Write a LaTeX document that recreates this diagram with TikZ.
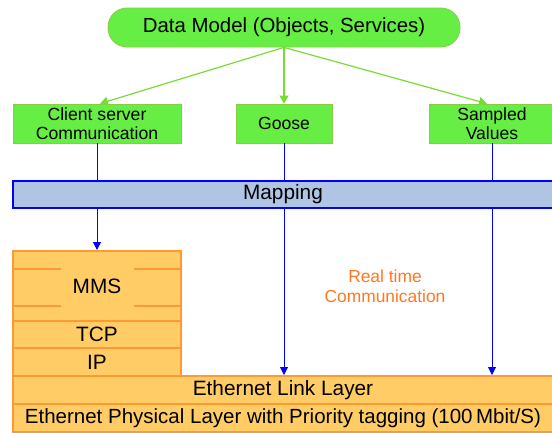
\documentclass[tikz,border=0pt]{standalone}
\usepackage{fontspec}
\setmainfont{Liberation Sans}
\usepackage{tikz}
\usetikzlibrary{calc,arrows.meta}

\definecolor{boxgreen}{HTML}{66EE44}
\definecolor{edgegreen}{HTML}{88CC44}
\definecolor{arrowgreen}{HTML}{77DD33}
\definecolor{layerfill}{HTML}{FFCC66}
\definecolor{layeredge}{HTML}{FF9933}
\definecolor{mapfill}{HTML}{B0C4E4}
\definecolor{rtorange}{HTML}{FF7722}

\tikzset{
  greenbox/.style={draw=edgegreen, line width=0.8pt, fill=boxgreen, inner sep=0pt,
    align=center, font=\fontsize{17.6}{19.5}\selectfont},
  layerbox/.style={draw=layeredge, line width=2pt, fill=layerfill, inner sep=0pt,
    align=center, font=\fontsize{20.8}{22}\selectfont},
  mapbox/.style={draw=blue, line width=2pt, fill=mapfill, inner sep=0pt,
    font=\fontsize{20.8}{22}\selectfont},
  greenarrow/.style={draw=arrowgreen, line width=1.2pt, -{Triangle[width=9pt,length=8pt]}},
  bluearrow/.style={draw=blue, line width=1pt, -{Triangle[width=8pt,length=8pt]}},
  blueline/.style={draw=blue, line width=1pt}
}

\begin{document}
\begin{tikzpicture}[x=1pt, y=-1pt]
    \useasboundingbox (0,0) rectangle (552,432);
    \clip (0,0) rectangle (552,432);
    % Def nodes
    \node[greenbox, rounded corners=19pt, minimum width=352pt, minimum height=39pt,
      font=\fontsize{20.4}{21}\selectfont] (model) at (284,27.5) {Data Model (Objects, Services)};
    \node[greenbox, minimum width=168pt, minimum height=39pt] (client) at (97,123.5)
      {Client server\\Communication};
    \node[greenbox, minimum width=96pt, minimum height=39pt] (goose) at (284,123.5) {Goose};
    \node[greenbox, minimum width=126pt, minimum height=39pt] (sampled) at (492,123.5)
      {Sampled\\Values};
    \node[mapbox, minimum width=540pt, minimum height=27pt] (mapping) at (283,194.5) {Mapping};
    % Draw layers
    \node[layerbox, minimum width=168pt, minimum height=70pt] (mms) at (97,286) {MMS};
    \node[layerbox, minimum width=168pt, minimum height=27pt] (tcp) at (97,334.5) {TCP};
    \node[layerbox, minimum width=168pt, minimum height=28pt] (ip) at (97,362) {IP};
    \node[layerbox, minimum width=540pt, minimum height=28pt] (link) at (283,390)
      {Ethernet Link Layer};
    \node[layerbox, minimum width=540pt, minimum height=28pt,
      font=\fontsize{20.5}{22}\selectfont] (phys) at (283,418)
      {Ethernet Physical Layer with Priority tagging (100\,Mbit/S)};
    % Draw MMS strokes
    \draw[layeredge, line width=2pt] ([yshift=-19pt]mms.north west) -- ++(49,0);
    \draw[layeredge, line width=2pt] ([yshift=-19pt]mms.north east) -- ++(-48,0);
    \draw[layeredge, line width=2pt] ([yshift=16pt]mms.south west) -- ++(49,0);
    \draw[layeredge, line width=2pt] ([yshift=16pt]mms.south east) -- ++(-48,0);
    % Draw green arrows
    \draw[greenarrow] (model.south) -- ([xshift=3pt]client.north);
    \draw[greenarrow] (model.south) -- (goose.north);
    \draw[greenarrow] (model.south) -- ([xshift=-5pt]sampled.north);
    % Draw blue lines
    \draw[blueline] (client.south) -- (client.south |- mapping.north);
    \draw[bluearrow] (client.south |- mapping.south) -- (mms.north);
    \draw[blueline] (goose.south) -- (goose.south |- mapping.north);
    \draw[bluearrow] (goose.south |- mapping.south) -- (goose.south |- link.north);
    \draw[blueline] (sampled.south) -- (sampled.south |- mapping.north);
    \draw[bluearrow] (sampled.south |- mapping.south) -- (sampled.south |- link.north);
    % Label
    \node[text=rtorange, align=center, font=\fontsize{17.4}{20}\selectfont] (rt) at (385,286)
      {Real time\\Communication};
\end{tikzpicture}
\end{document}
